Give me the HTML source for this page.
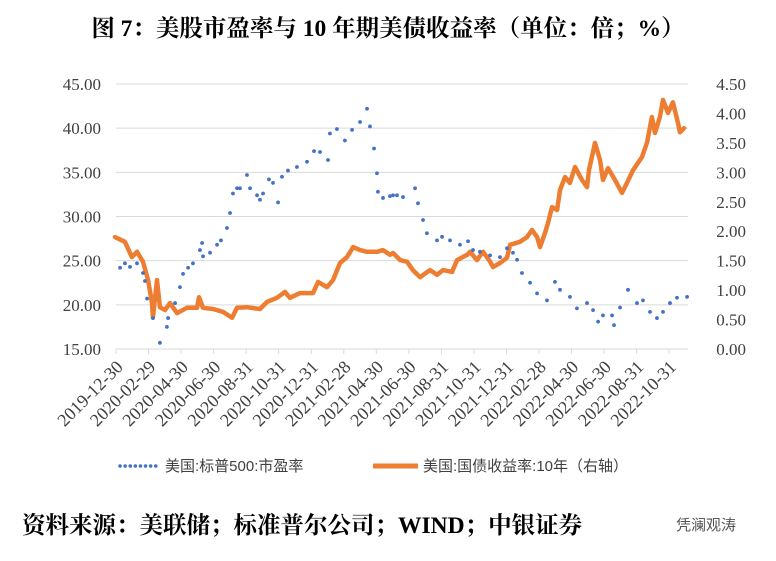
<!DOCTYPE html>
<html><head><meta charset="utf-8"><style>
body{margin:0;background:#fff;width:776px;height:556px;overflow:hidden;font-family:"Liberation Serif","Noto Serif CJK SC",serif}
</style></head><body>
<svg width="776" height="556" xmlns="http://www.w3.org/2000/svg">
<text x="388" y="36" text-anchor="middle" font-size="23.5" font-weight="bold" font-family="'Liberation Serif','Noto Serif CJK SC',serif">图 7：美股市盈率与 10 年期美债收益率（单位：倍；%）</text>
<g id="grid"></g>
<g id="axes"></g>
<g id="series"></g>
<g font-family="'Liberation Sans','Noto Sans CJK SC',sans-serif" font-size="15" fill="#404040">
<g>
<line x1="120" y1="466" x2="160" y2="466" stroke="#4472C4" stroke-width="3.5" stroke-dasharray="0.1 5" stroke-linecap="round"/>
<text x="165" y="471">美国:标普500:市盈率</text></g>
<g>
<line x1="373" y1="466" x2="418" y2="466" stroke="#ED7D31" stroke-width="5"/>
<text x="423" y="471">美国:国债收益率:10年（右轴）</text></g>
</g>
<text x="22" y="533" font-size="23.5" font-weight="bold" font-family="'Liberation Serif','Noto Serif CJK SC',serif">资料来源：美联储；标准普尔公司；WIND；中银证券</text>
<text x="676" y="530" font-size="15" fill="#555" font-family="'Liberation Sans','Noto Sans CJK SC',sans-serif">凭澜观涛</text>
</svg>
<script>
const xTicks=["2019-12-30","2020-02-29","2020-04-30","2020-06-30","2020-08-31","2020-10-31","2020-12-31","2021-02-28","2021-04-30","2021-06-30","2021-08-31","2021-10-31","2021-12-31","2022-02-28","2022-04-30","2022-06-30","2022-08-31","2022-10-31"];
const leftTicks=[15,20,25,30,35,40,45];
const rightTicks=[0,0.5,1,1.5,2,2.5,3,3.5,4,4.5];
// months since 2019-12-30
const peMonths=[0.25,0.55,0.86,1.29,1.66,1.78,1.91,2.27,2.70,3.13,3.20,3.63,3.93,4.12,4.43,4.73,5.16,5.29,5.35,5.78,6.21,6.45,6.82,7.01,7.19,7.44,7.62,8.05,8.24,8.67,8.85,9.04,9.40,9.65,9.96,10.20,10.57,11.12,11.74,12.17,12.54,13.03,13.15,13.58,14.07,14.51,15.00,15.43,15.61,15.86,16.04,16.10,16.41,16.84,17.03,17.27,17.64,18.38,18.56,18.87,19.11,19.73,20.04,20.53,21.14,21.64,21.94,22.37,22.99,23.60,24.03,24.40,24.65,24.95,25.45,25.88,26.49,26.98,27.29,27.90,28.33,28.95,29.32,29.63,29.93,30.49,30.61,30.98,31.47,32.02,32.39,32.82,33.25,33.62,34.05,34.48,35.10];
const peValues=[24.2,24.7,24.3,24.7,23.6,22.7,20.7,18.5,15.7,17.5,18.5,20.2,22.0,23.5,24.2,24.7,26.2,27.0,25.5,25.9,26.8,27.3,28.7,30.4,32.6,33.2,33.2,34.7,33.2,32.4,31.9,32.6,34.2,33.8,31.6,34.5,35.2,35.6,36.2,37.4,37.3,36.4,39.4,39.9,38.6,39.8,40.7,42.2,40.2,37.7,34.9,32.8,32.1,32.3,32.4,32.4,32.2,33.2,31.5,29.6,28.1,27.3,27.7,27.3,26.8,27.2,26.2,26.0,25.6,25.4,26.4,25.9,25.1,23.6,22.5,21.3,20.5,22.6,21.7,20.9,19.6,20.2,19.4,18.1,18.8,18.8,17.7,19.7,21.7,20.2,20.5,19.2,18.5,19.2,20.2,20.8,20.9];
const yMonths=[-0.06,0.55,0.98,1.29,1.66,1.97,2.21,2.27,2.52,2.70,3.01,3.32,3.75,4.36,4.98,5.10,5.35,5.96,6.58,7.13,7.44,8.05,8.85,9.28,9.89,10.39,10.69,11.31,12.11,12.42,12.97,13.34,13.77,14.20,14.57,15.00,15.43,16.04,16.41,16.84,17.03,17.46,17.89,18.25,18.69,19.30,19.73,20.10,20.66,20.96,21.58,21.76,22.19,22.56,23.00,23.17,23.60,24.03,24.22,24.83,25.26,25.57,25.88,26.06,26.37,26.55,26.80,27.11,27.29,27.60,27.90,28.21,28.64,28.95,29.07,29.44,29.75,29.93,30.24,30.67,31.10,31.41,31.78,32.33,32.64,32.94,33.13,33.43,33.62,33.93,34.23,34.54,34.66,34.91];
const yValues=[1.90,1.82,1.56,1.65,1.48,1.17,0.78,0.54,1.17,0.71,0.66,0.78,0.61,0.70,0.70,0.88,0.70,0.68,0.63,0.53,0.70,0.71,0.68,0.80,0.87,0.97,0.87,0.95,0.95,1.14,1.05,1.17,1.46,1.56,1.73,1.68,1.65,1.65,1.68,1.60,1.63,1.51,1.48,1.34,1.22,1.34,1.26,1.34,1.31,1.51,1.60,1.65,1.51,1.65,1.48,1.39,1.46,1.55,1.77,1.82,1.90,2.02,1.90,1.73,1.97,2.14,2.41,2.36,2.70,2.92,2.82,3.09,2.87,2.75,3.04,3.50,3.21,2.87,3.07,2.87,2.65,2.82,3.04,3.26,3.51,3.94,3.67,3.94,4.23,4.01,4.19,3.84,3.68,3.75,3.51];
const NS="http://www.w3.org/2000/svg";
const X0=116,MPX=16.27,YB=349,YT=84;
const xS=m=>X0+m*MPX;
const yL=v=>YB-(v-15)/30*(YB-YT);
const yR=v=>YB-v/4.5*(YB-YT);
function mk(tag,attrs,parent){const e=document.createElementNS(NS,tag);for(const k in attrs)e.setAttribute(k,attrs[k]);parent.appendChild(e);return e;}
const grid=document.getElementById('grid'),axes=document.getElementById('axes'),series=document.getElementById('series');
leftTicks.forEach(v=>{
  const l=mk('line',{x1:X0,x2:688,y1:yL(v),y2:yL(v),stroke:'#d9d9d9','stroke-width':1},grid);
  
  
  const t=mk('text',{x:101,y:yL(v)+6,'text-anchor':'end','font-size':17,fill:'#404040'},axes);
  
  
  t.textContent=v.toFixed(2);
});
rightTicks.forEach(v=>{
  const t=mk('text',{x:746,y:yR(v)+6,'text-anchor':'end','font-size':17,fill:'#404040'},axes);
  
  
  t.textContent=v.toFixed(2);
});
xTicks.forEach((d,i)=>{
  const x=xS(i*2);
  const tk=mk('line',{x1:x,x2:x,y1:YB,y2:YB+5,stroke:'#d9d9d9'},axes);
  
  
  const ax=x+8,ay=YB+19;
  const t=mk('text',{x:ax,y:ay,'text-anchor':'end','font-size':18,fill:'#404040',transform:`rotate(-45 ${ax} ${ay})`},axes);
  
  
  t.textContent=d;
});
let dstr=yMonths.map((m,i)=>(i?'L':'M')+xS(m).toFixed(1)+' '+yR(yValues[i]).toFixed(1)).join(' ');
const p=mk('path',{d:dstr,fill:'none',stroke:'#ED7D31','stroke-width':4.5,'stroke-linejoin':'round','stroke-linecap':'round'},series);


peMonths.forEach((m,i)=>{
  const c=mk('circle',{cx:xS(m),cy:yL(peValues[i]),r:1.9,fill:'#4472C4'},series);
  
  
});
</script>
</body></html>
